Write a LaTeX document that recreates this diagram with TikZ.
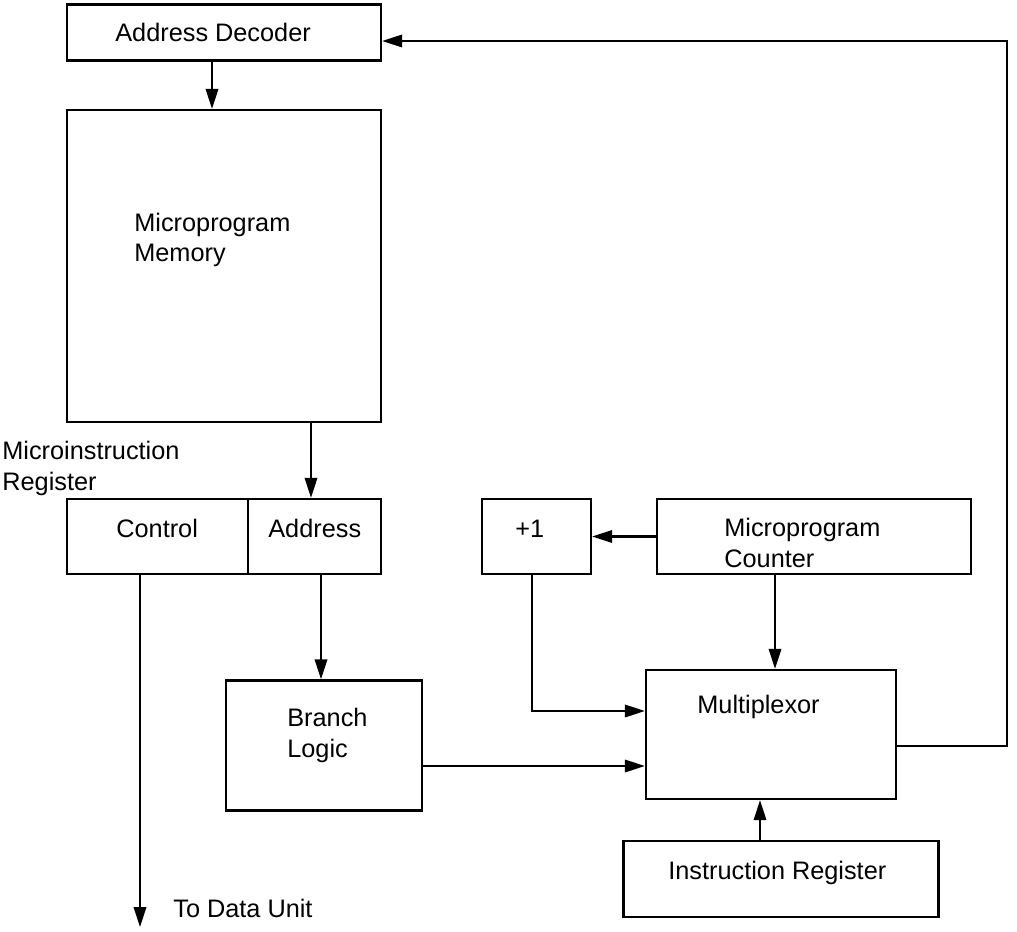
\documentclass[tikz,border=0pt]{standalone}
\usepackage{fontspec}
\setmainfont{Liberation Sans}
\usetikzlibrary{arrows.meta}
\begin{document}
\begin{tikzpicture}[x=0.02cm, y=-0.02cm,
        box/.style={draw, line width=1.4pt, rectangle, inner sep=0pt},
        lbl/.style={anchor=base west, inner sep=0pt, align=left, font=\fontsize{14.4}{17.1}\selectfont},
        arr/.style={line width=1.2pt, -{Triangle[length=0.4cm, width=0.25cm]}}]
    \useasboundingbox (0,0) rectangle (1017,932);
    \node[box, minimum width=6.28cm, minimum height=1.12cm] (dec)    at (224,32.5)  {};
    \node[box, minimum width=6.28cm, minimum height=6.24cm] (mem)    at (224,266)   {};
    \node[box, minimum width=3.62cm, minimum height=1.5cm]  (ctrl)   at (157.5,536.5) {};
    \node[box, minimum width=2.66cm, minimum height=1.5cm]  (addr)   at (314.5,536.5) {};
    \node[box, minimum width=3.92cm, minimum height=2.6cm]  (branch) at (324,745.5) {};
    \node[box, minimum width=2.18cm, minimum height=1.5cm]  (inc)    at (536.5,536.5) {};
    \node[box, minimum width=6.28cm, minimum height=1.5cm]  (pc)     at (814,536.5) {};
    \node[box, minimum width=5cm,    minimum height=2.58cm] (mux)    at (771,734.5) {};
    \node[box, minimum width=6.3cm,  minimum height=1.52cm] (ir)     at (781,879)   {};

    \node[lbl] (dect)    at (115,42)  {Address Decoder};
    \node[lbl] (memt)    at (134,262) {Microprogram\\Memory};
    \node[lbl] (mirt)    at (2,490)   {Microinstruction\\Register};
    \node[lbl] (ctrlt)   at (116,537) {Control};
    \node[lbl] (addrt)   at (268,537) {Address};
    \node[lbl] (inct)    at (515,537) {+1};
    \node[lbl] (pct)     at (724,567) {Microprogram\\Counter};
    \node[lbl] (muxt)    at (697,713) {Multiplexor};
    \node[lbl] (brancht) at (287,757) {Branch\\Logic};
    \node[lbl] (irt)     at (668,879) {Instruction Register};
    \node[lbl] (datat)   at (173,917) {To Data Unit};

    \coordinate (data) at (140,927);
    \coordinate (back) at (1007,41);
    \draw[arr] (dec.south -| 212,0) -- (mem.north -| 212,0);
    \draw[arr] (mem.south -| 311,0) -- (addr.north -| 311,0);
    \draw[arr] (addr.south -| 321,0) -- (branch.north -| 321,0);
    \draw[arr] (ctrl.south -| data) -- (data);
    \draw[arr] (pc.west) -- (inc.east);
    \draw[arr] (pc.south -| 775,0) -- (mux.north -| 775,0);
    \draw[arr] (inc.south -| 532,0) |- (mux.west |- 0,711);
    \draw[arr] (branch.east |- 0,766) -- (mux.west |- 0,766);
    \draw[arr] (ir.north -| 760,0) -- (mux.south -| 760,0);
    \draw[arr] (mux.east |- 0,746) -| (back) -- (dec.east |- back);
\end{tikzpicture}
\end{document}
